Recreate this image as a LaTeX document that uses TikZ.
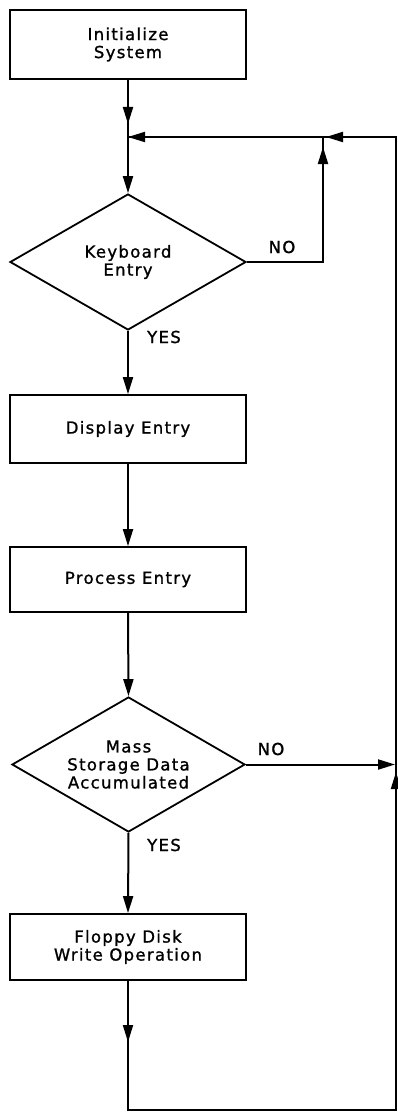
\documentclass[tikz,border=0pt]{standalone}
\usepackage{fontspec}
\newfontfamily\diafont{DejaVu Sans}[LetterSpace=8,FakeBold=1.2]
\usetikzlibrary{shapes.geometric,arrows.meta}
\begin{document}
\begin{tikzpicture}[x=1pt,y=-1pt,
  txt/.style={font=\diafont\fontsize{16.5}{18}\selectfont},
  box/.style={txt,draw,line width=1.8pt,minimum width=236pt,inner sep=0pt,align=center},
  dec/.style={txt,draw,diamond,line width=1.8pt,inner sep=0pt,aspect=1.74,align=center},
  lbl/.style={txt,inner sep=0pt},
  ln/.style={line width=2pt,line join=miter},
  arr/.style={line width=2pt,-{Triangle[length=17pt,width=10pt]}}]
\useasboundingbox (0,0) rectangle (398,1113);
\node[box,minimum height=69pt] (init) at (128,44.5) {Initialize\\System};
\node[dec,minimum width=236pt,minimum height=136pt] (kb) at (128,262) {Keyboard\\Entry};
\node[box,minimum height=68pt] (disp) at (128,429) {Display Entry};
\node[box,minimum height=65pt] (proc) at (128,579.5) {Process Entry};
\node[dec,minimum width=233pt,minimum height=135pt] (mass) at (128.5,764.5) {Mass\\Storage Data\\Accumulated};
\node[box,minimum height=66pt] (flop) at (128,947) {Floppy Disk\\Write Operation};
\node[lbl] (no1) at (282,247) {NO};
\node[lbl] (yes1) at (164,337) {YES};
\node[lbl] (no2) at (271,749) {NO};
\node[lbl] (yes2) at (164,845) {YES};
\coordinate (j1) at (128,137);
\coordinate (j2) at (323,137);
\coordinate (tr) at (396,137);
\coordinate (br) at (396,1110);
\coordinate (bl) at (128,1110);
\coordinate (kbno) at (323,262);
\coordinate (mno) at (395,764.5);
\coordinate (a1) at (128,124);
\coordinate (a2) at (323,147);
\coordinate (a3) at (326,137);
\coordinate (a4) at (128,1042);
\coordinate (a5) at (396,772);
% main flow
\draw[ln] (init.south) -- (j1);
\draw[arr] (init.south) -- (a1);
\draw[arr] (j1) -- (kb.north);
\draw[arr] (kb.south) -- (disp.north);
\draw[arr] (disp.south) -- (proc.north);
\draw[arr] (proc.south) -- (mass.north);
\draw[arr] (mass.south) -- (flop.north);
% keyboard NO branch
\draw[ln] (kb.east) -- (kbno) -- (j2);
\draw[arr] (kbno) -- (a2);
% mass storage NO branch
\draw[arr] (mass.east) -- (mno);
% return loop
\draw[ln] (flop.south) -- (bl) -- (br) -- (tr) -- (j1);
\draw[arr] (flop.south) -- (a4);
\draw[arr] (br) -- (a5);
\draw[arr] (tr) -- (a3);
\draw[arr] (j2) -- (j1);
\end{tikzpicture}
\end{document}
